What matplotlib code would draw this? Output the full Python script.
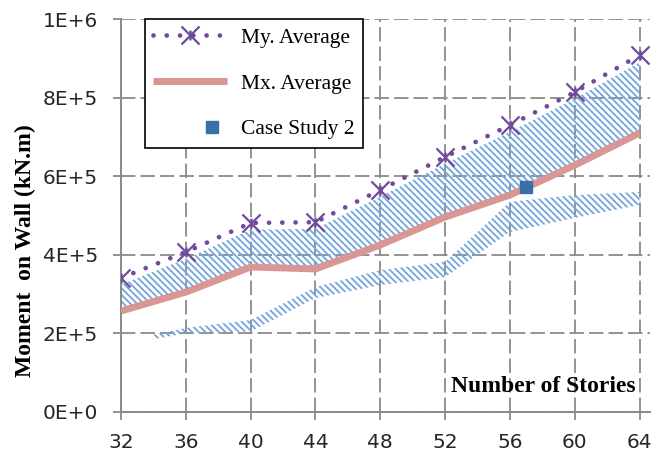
import matplotlib
matplotlib.use("Agg")
import matplotlib.pyplot as plt
from matplotlib.path import Path
from matplotlib.lines import Line2D
from matplotlib.legend_handler import HandlerBase

# --- data -------------------------------------------------------------
stories = [32, 36, 40, 44, 48, 52, 56, 60, 64]
my_average = [341e3, 407e3, 481e3, 483e3, 565e3, 649e3, 730e3, 814e3, 908e3]
mx_average = [257e3, 305e3, 369e3, 364e3, 425e3, 496e3, 552e3, 628e3, 710e3]
band_top = [324e3, 390e3, 464e3, 466e3, 548e3, 632e3, 713e3, 797e3, 890e3]

low_stories = [34, 36, 40, 44, 48, 52, 56, 60, 64]
low_band_min = [185e3, 200e3, 205e3, 290e3, 323e3, 343e3, 458e3, 494e3, 527e3]
low_band_max = [197e3, 214e3, 234e3, 318e3, 361e3, 382e3, 535e3, 552e3, 560e3]

case_story = [57]
case_moment = [573e3]

y_ticks = [0, 2e5, 4e5, 6e5, 8e5, 1e6]
y_tick_labels = ["0E+0", "2E+5", "4E+5", "6E+5", "8E+5", "1E+6"]

# --- style ------------------------------------------------------------
PURPLE = "#6e4b9c"
PINK = "#d99694"
HATCH = "#72a5dc"
SQUARE = "#3b6faa"
GRID = "#8a8a8a"

plt.rcParams["hatch.linewidth"] = 1.3

# star marker: an x with a short vertical stroke
star = Path(
    [(-1, -1), (1, 1), (-1, 1), (1, -1), (0, -0.55), (0, 0.55)],
    [Path.MOVETO, Path.LINETO, Path.MOVETO, Path.LINETO, Path.MOVETO, Path.LINETO],
)

fig = plt.figure(figsize=(6.62, 4.66), dpi=100)
ax = fig.add_axes([0.1828, 0.1159, 0.7992, 0.8433])

ax.set_xlim(32, 64.65)
ax.set_ylim(0, 1e6)

# hatched bands
hatch = "\\" * 5
ax.fill_between(stories, mx_average, band_top, facecolor="none",
                edgecolor=HATCH, linewidth=0, hatch=hatch, zorder=2)
ax.fill_between(low_stories, low_band_min, low_band_max, facecolor="none",
                edgecolor=HATCH, linewidth=0, hatch=hatch, zorder=2)

# series
ax.plot(stories, mx_average, color=PINK, linewidth=5,
        solid_capstyle="butt", zorder=3, label="Mx. Average")
ax.plot(stories, my_average, color=PURPLE, linewidth=3.4,
        linestyle=(0, (0.01, 2.8)), dash_capstyle="round",
        marker=star, markersize=13, markeredgewidth=1.6,
        markeredgecolor=PURPLE, zorder=4, label="My. Average")
ax.plot(case_story, case_moment, linestyle="none", marker="s",
        markersize=9, color=SQUARE, zorder=5, label="Case Study 2")

# grid and axes
ax.set_xticks(stories)
ax.set_yticks(y_ticks)
ax.set_yticklabels(y_tick_labels)
ax.grid(True, color=GRID, linestyle=(0, (8, 2.8)), linewidth=1.3, zorder=1)
ax.set_axisbelow(True)
for side in ("top", "right"):
    ax.spines[side].set_visible(False)
for side in ("left", "bottom"):
    ax.spines[side].set_color(GRID)
    ax.spines[side].set_linewidth(1.4)
ax.tick_params(axis="both", direction="out", length=6, width=1.3,
               color=GRID, labelsize=14.5, labelcolor="#262626")
ax.tick_params(axis="y", pad=10.5)
ax.tick_params(axis="x", pad=9)

serif = ["Liberation Serif", "DejaVu Serif"]
ax.set_ylabel("Moment  on Wall (kN.m)", family=serif, fontweight="bold",
              fontsize=17)
ax.yaxis.set_label_coords(-0.16, 0.41)
ax.text(0.972, 0.052, "Number of Stories", transform=ax.transAxes,
        ha="right", va="baseline", family=serif, fontweight="bold",
        fontsize=17)


class RightMarkerHandler(HandlerBase):
    """Legend key that puts a single marker toward the right of the slot."""

    def create_artists(self, legend, orig_handle, xdescent, ydescent,
                       width, height, fontsize, trans):
        mark = Line2D([0.8 * width - xdescent], [0.5 * height - ydescent],
                      linestyle="none", marker=orig_handle.get_marker(),
                      markersize=orig_handle.get_markersize(),
                      color=orig_handle.get_color())
        mark.set_transform(trans)
        return [mark]


handles, labels = ax.get_legend_handles_labels()
order = [1, 0, 2]
leg = ax.legend([handles[i] for i in order], [labels[i] for i in order],
                loc="upper left", bbox_to_anchor=(0.045, 1.0),
                prop={"family": serif, "size": 15.5}, numpoints=1,
                handlelength=3.4, handletextpad=0.65, labelspacing=1.2,
                borderpad=0.4, borderaxespad=0, fancybox=False,
                framealpha=1, edgecolor="black",
                handler_map={handles[2]: RightMarkerHandler()})
leg.get_frame().set_linewidth(1.2)

fig.savefig("out.png", dpi=100)
